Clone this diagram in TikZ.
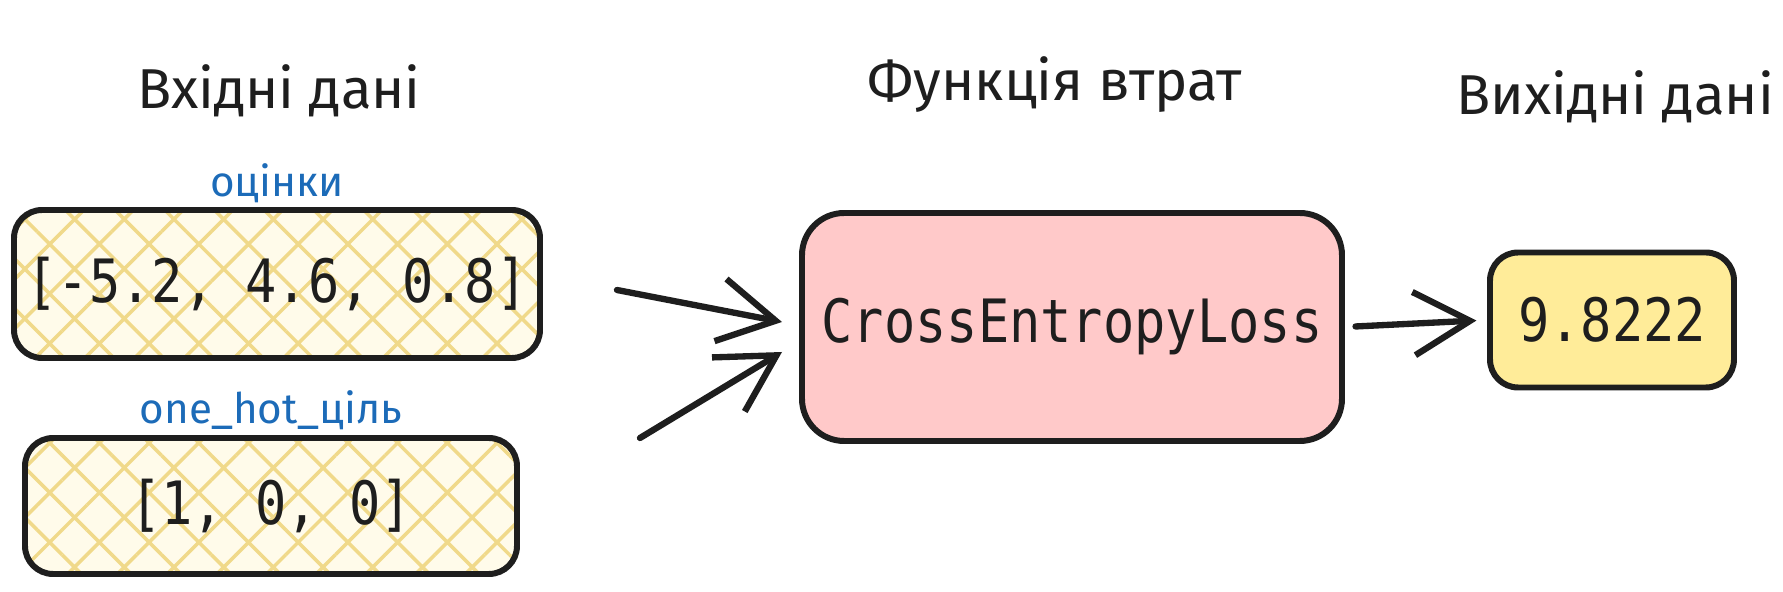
\documentclass[tikz,border=0pt]{standalone}
\usepackage{fontspec}
\setmainfont{Fira Sans}
\newfontfamily\codefont[FakeStretch=0.87]{DejaVu Sans Mono}
\usepackage{tikz}
\usetikzlibrary{arrows.meta, positioning, calc, patterns.meta}
\usepackage{xcolor}
\definecolor{inkblack}{HTML}{1E1E1E}
\definecolor{labelblue}{HTML}{1C6BB8}
\definecolor{hatchyellow}{HTML}{F0D98A}
\definecolor{paleyellow}{HTML}{FFFBEA}
\definecolor{losspink}{HTML}{FFC9C9}
\definecolor{outyellow}{HTML}{FFEC99}

\tikzset{
	title/.style={font=\fontsize{16}{19}\selectfont, text=inkblack},
	tag/.style={font=\fontsize{12}{14}\selectfont, text=labelblue},
	box/.style={draw=inkblack, line width=1.7pt, rounded corners=8pt, font=\codefont\fontsize{17}{20}\selectfont, text=inkblack},
	hatched/.style={box, preaction={fill=paleyellow}, pattern={Hatch[angle=45, distance=10pt, line width=1pt]}, pattern color=hatchyellow},
	arr/.style={draw=inkblack, line width=1.8pt, line cap=round, -{Straight Barb[length=16pt, width=18pt, line width=1.8pt]}}
}

\begin{document}
\begin{tikzpicture}
				\useasboundingbox (0,0) rectangle (17.83,5.92);
				% inputs
				\node[hatched, minimum width=5.26cm, minimum height=1.48cm] (scores) at (2.77,3.08) {[-5.2, 4.6, 0.8]};
				\node[hatched, minimum width=4.92cm, minimum height=1.36cm] (target) at (2.71,0.86) {[1, 0, 0]};
				\node[tag, above=-0.07 of scores] (scoreslbl) {оцінки};
				\node[tag, above=-0.07 of target] (targetlbl) {one\_hot\_ціль};
				\node[title] (intitle) at (2.79,5.01) {Вхідні дані};
				% loss
				\node[box, fill=losspink, rounded corners=12pt, minimum width=5.40cm, minimum height=2.28cm] (loss) at (10.72,2.65) {CrossEntropyLoss};
				\node[title] (losstitle) at (10.55,5.07) {Функція втрат};
				% output
				\node[box, fill=outyellow, minimum width=2.44cm, minimum height=1.35cm] (out) at (16.12,2.72) {9.8222};
				\node[title] (outtitle) at (16.15,4.95) {Вихідні дані};
				% arrows
				\coordinate (a1) at (6.17,3.02);
				\coordinate (a2) at (6.40,1.54);
				\draw[arr] (a1) -- ($(loss.west)+(-0.17,0.05)$);
				\draw[arr] (a2) -- ($(loss.west)+(-0.17,-0.25)$);
				\draw[arr, shorten <=3pt, shorten >=3pt] (loss.east) -- (out.west);
			\end{tikzpicture}
\end{document}
